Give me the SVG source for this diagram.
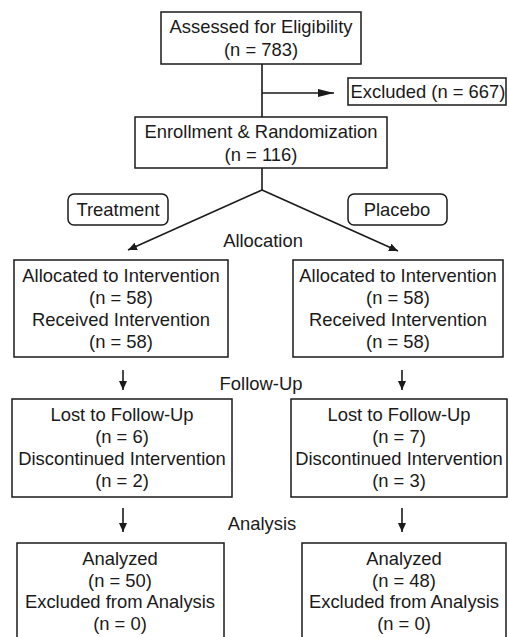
<svg xmlns="http://www.w3.org/2000/svg" width="509" height="637" viewBox="0 0 509 637">
<style>
.box{fill:#fff;stroke:#1a1a1a;stroke-width:1.5}
.t{font-family:"Liberation Sans",Arial,sans-serif;font-size:18.4px;fill:#1a1a1a;text-anchor:middle}
.ln{stroke:#1a1a1a;stroke-width:1.6;fill:none}
</style>
<defs>
<marker id="ah" markerUnits="userSpaceOnUse" markerWidth="9" markerHeight="8" refX="9" refY="4" orient="auto">
<path d="M0,0 L9,4 L0,8 z" fill="#1a1a1a"/>
</marker>
<marker id="ahb" markerUnits="userSpaceOnUse" markerWidth="16" markerHeight="8" refX="16" refY="4" orient="auto">
<path d="M0,0 L16,4 L0,8 z" fill="#1a1a1a"/>
</marker>
</defs>
<rect width="509" height="637" fill="#fff"/>
<g id="connectors">
<line class="ln" x1="262" y1="64" x2="262" y2="117"/>
<line class="ln" x1="262" y1="93" x2="334" y2="93" marker-end="url(#ahb)"/>
<line class="ln" x1="262" y1="168" x2="262" y2="190"/>
<line class="ln" x1="262" y1="190" x2="128" y2="250" marker-end="url(#ah)"/>
<line class="ln" x1="262" y1="190" x2="398" y2="251" marker-end="url(#ah)"/>
<line class="ln" x1="123" y1="370" x2="123" y2="390" marker-end="url(#ah)"/>
<line class="ln" x1="402" y1="370" x2="402" y2="390" marker-end="url(#ah)"/>
<line class="ln" x1="123" y1="508" x2="123" y2="532" marker-end="url(#ah)"/>
<line class="ln" x1="402" y1="508" x2="402" y2="532" marker-end="url(#ah)"/>
</g>
<g id="assessed">
<rect class="box" x="161" y="12" width="200" height="52"/>
<text class="t" x="261" y="33">Assessed for Eligibility</text>
<text class="t" x="261" y="56">(n = 783)</text>
</g>
<g id="excluded">
<rect class="box" x="348" y="78" width="158" height="27"/>
<text class="t" x="428" y="98">Excluded (n = 667)</text>
</g>
<g id="enrollment">
<rect class="box" x="135" y="117" width="252" height="51"/>
<text class="t" x="261" y="138">Enrollment &amp; Randomization</text>
<text class="t" x="261" y="161">(n = 116)</text>
</g>
<g id="treatment">
<rect class="box" x="68" y="194" width="100" height="31" rx="6"/>
<text class="t" x="118" y="216">Treatment</text>
</g>
<g id="placebo">
<rect class="box" x="348" y="194" width="99" height="31" rx="6"/>
<text class="t" x="397" y="216">Placebo</text>
</g>
<g id="label-allocation"><text class="t" x="263" y="247">Allocation</text></g>
<g id="label-followup"><text class="t" x="261" y="390">Follow-Up</text></g>
<g id="label-analysis"><text class="t" x="262" y="530">Analysis</text></g>
<g id="alloc-left">
<rect class="box" x="14" y="260" width="214" height="97"/>
<text class="t" x="121" y="282">Allocated to Intervention</text>
<text class="t" x="121" y="304">(n = 58)</text>
<text class="t" x="121" y="326">Received Intervention</text>
<text class="t" x="121" y="348">(n = 58)</text>
</g>
<g id="alloc-right">
<rect class="box" x="293" y="260" width="210" height="97"/>
<text class="t" x="398" y="282">Allocated to Intervention</text>
<text class="t" x="398" y="304">(n = 58)</text>
<text class="t" x="398" y="326">Received Intervention</text>
<text class="t" x="398" y="348">(n = 58)</text>
</g>
<g id="follow-left">
<rect class="box" x="12" y="399" width="220" height="98"/>
<text class="t" x="122" y="421">Lost to Follow-Up</text>
<text class="t" x="122" y="443">(n = 6)</text>
<text class="t" x="122" y="465">Discontinued Intervention</text>
<text class="t" x="122" y="487">(n = 2)</text>
</g>
<g id="follow-right">
<rect class="box" x="291" y="399" width="216" height="98"/>
<text class="t" x="399" y="421">Lost to Follow-Up</text>
<text class="t" x="399" y="443">(n = 7)</text>
<text class="t" x="399" y="465">Discontinued Intervention</text>
<text class="t" x="399" y="487">(n = 3)</text>
</g>
<g id="analysis-left">
<rect class="box" x="17" y="543" width="207" height="110"/>
<text class="t" x="120" y="565">Analyzed</text>
<text class="t" x="120" y="587">(n = 50)</text>
<text class="t" x="120" y="608">Excluded from Analysis</text>
<text class="t" x="120" y="630">(n = 0)</text>
</g>
<g id="analysis-right">
<rect class="box" x="302" y="543" width="204" height="110"/>
<text class="t" x="404" y="565">Analyzed</text>
<text class="t" x="404" y="587">(n = 48)</text>
<text class="t" x="404" y="608">Excluded from Analysis</text>
<text class="t" x="404" y="630">(n = 0)</text>
</g>
</svg>
